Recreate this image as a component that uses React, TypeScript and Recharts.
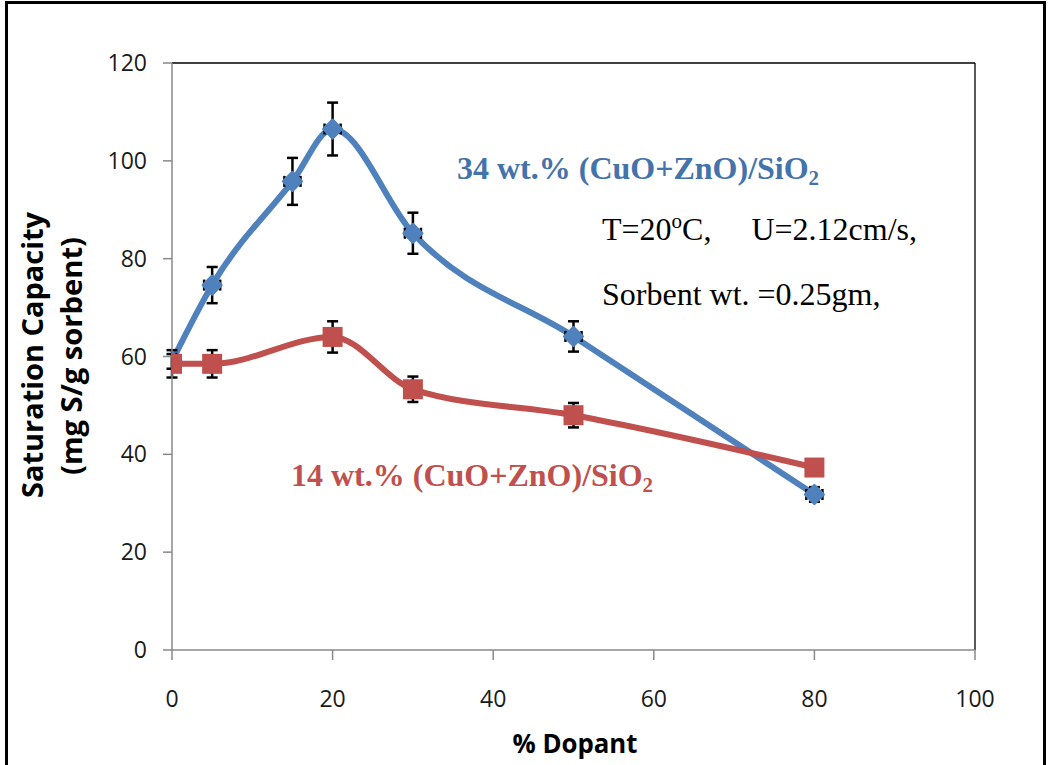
import React from 'react';
import { ComposedChart, Line, Scatter, XAxis, YAxis, ErrorBar, ReferenceLine } from 'recharts';

// % Dopant (x) values
const dopantBlue = [0, 5, 15, 20, 30, 50, 80];
const dopantRed = [0, 5, 20, 30, 50, 80];
// Saturation capacity (mg S/g sorbent)
const capacityBlue = [59, 74.6, 95.8, 106.5, 85.2, 64.1, 31.8];
const capacityRed = [58.5, 58.5, 64, 53.3, 48, 37.3];
// error bar half-lengths
const errorBlueY = [1.5, 3.7, 4.8, 5.4, 4.2, 3.1, 1.5];
const errorBlueX = [0, 1, 1, 1, 1, 1, 1];
const errorRedY = [2.8, 2.8, 3.2, 2.6, 2.5, 1];
// axis ticks
const xTicks = [0, 20, 40, 60, 80, 100];
const yTicks = [0, 20, 40, 60, 80, 100, 120];

const blueData = dopantBlue.map((x, i) => ({ x, y: capacityBlue[i], ey: errorBlueY[i], ex: errorBlueX[i] }));
const redData = dopantRed.map((x, i) => ({ x, y: capacityRed[i], ey: errorRedY[i] }));

const BLUE = '#4F81BD';
const RED = '#C0504D';
const BLUE_TEXT = '#4473AB';
const AXIS = '#898989';
const TICK_FONT = { fontFamily: "'Open Sans', sans-serif", fontSize: 23, fill: '#1a1a1a' };

const Diamond = (props: any) => {
  const { cx, cy } = props;
  if (cx == null || cy == null) return null;
  const r = 9;
  return (
    <path
      d={`M${cx},${cy - r} L${cx + r},${cy} L${cx},${cy + r} L${cx - r},${cy} Z`}
      fill={BLUE}
      stroke={BLUE}
      strokeWidth={3}
      strokeLinejoin="round"
    />
  );
};

const Square = (props: any) => {
  const { cx, cy } = props;
  if (cx == null || cy == null) return null;
  return <rect x={cx - 10} y={cy - 10} width={20} height={20} fill={RED} />;
};

export default function App() {
  return (
    <div style={{ position: 'absolute', left: 0, top: 0, width: 1050, height: 765, overflow: 'hidden', background: '#fff' }}>
      <div
        style={{
          position: 'absolute',
          left: 5,
          top: 1,
          width: 1035,
          height: 820,
          border: '3px solid #000',
        }}
      />
      <div style={{ position: 'absolute', left: 0, top: 0 }}>
        <ComposedChart width={1050} height={765} margin={{ top: 63, right: 75, bottom: 55, left: 0 }}>
          <XAxis
            dataKey="x"
            type="number"
            domain={[0, 100]}
            allowDataOverflow={true}
            ticks={xTicks}
            height={60}
            tickSize={10}
            tickMargin={31}
            axisLine={{ stroke: AXIS, strokeWidth: 1.5 }}
            tickLine={{ stroke: AXIS, strokeWidth: 1.5 }}
            tick={TICK_FONT}
          />
          <YAxis
            type="number"
            domain={[0, 120]}
            allowDataOverflow={true}
            ticks={yTicks}
            width={172}
            tickSize={9}
            tickMargin={16}
            axisLine={{ stroke: AXIS, strokeWidth: 1.5 }}
            tickLine={{ stroke: AXIS, strokeWidth: 1.5 }}
            tick={TICK_FONT}
          />
          <ReferenceLine y={120} stroke="#000" strokeWidth={1.3} />
          <ReferenceLine x={100} stroke="#000" strokeWidth={1.3} />
          <Line
            data={blueData}
            dataKey="y"
            type="monotone"
            stroke={BLUE}
            strokeWidth={6}
            dot={false}
            activeDot={false}
            isAnimationActive={false}
          />
          <Scatter data={blueData} dataKey="y" shape={Diamond} isAnimationActive={false}>
            <ErrorBar dataKey="ey" direction="y" width={5.5} stroke="#000" strokeWidth={2.5} />
            <ErrorBar dataKey="ex" direction="x" width={5.5} stroke="#000" strokeWidth={2.5} />
          </Scatter>
          <Line
            data={redData}
            dataKey="y"
            type="monotone"
            stroke={RED}
            strokeWidth={6}
            dot={false}
            activeDot={false}
            isAnimationActive={false}
          />
          <Scatter data={redData} dataKey="y" shape={Square} isAnimationActive={false}>
            <ErrorBar dataKey="ey" direction="y" width={5.5} stroke="#000" strokeWidth={2.5} />
          </Scatter>
        </ComposedChart>
      </div>
      <svg
        width={1050}
        height={765}
        style={{ position: 'absolute', left: 0, top: 0, pointerEvents: 'none' }}
      >
        <text x={457} y={179} fontFamily="'Liberation Serif', serif" fontWeight="bold" fontSize={32} fill={BLUE_TEXT}>
          34 wt.% (CuO+ZnO)/SiO<tspan fontSize={21} dy={6}>2</tspan>
        </text>
        <text x={602} y={240} fontFamily="'Liberation Serif', serif" fontSize={32} fill="#000" style={{ whiteSpace: 'pre' }}>
          T=20<tspan fontSize={21} dy={-12}>o</tspan>
          <tspan dy={12}>{'C,     U=2.12cm/s,'}</tspan>
        </text>
        <text x={602} y={305} fontFamily="'Liberation Serif', serif" fontSize={32} fill="#000">
          Sorbent wt. =0.25gm,
        </text>
        <text x={291} y={486} fontFamily="'Liberation Serif', serif" fontWeight="bold" fontSize={32} fill={RED}>
          14 wt.% (CuO+ZnO)/SiO<tspan fontSize={21} dy={6}>2</tspan>
        </text>
        <text
          x={575}
          y={753}
          textAnchor="middle"
          fontFamily="'Open Sans', sans-serif"
          fontWeight="bold"
          fontSize={27}
          fill="#000"
          textLength={125}
          lengthAdjust="spacingAndGlyphs"
        >
          % Dopant
        </text>
        <text
          transform="translate(43,355) rotate(-90)"
          textAnchor="middle"
          fontFamily="'Open Sans', sans-serif"
          fontWeight="bold"
          fontSize={28}
          fill="#000"
          textLength={286}
          lengthAdjust="spacingAndGlyphs"
        >
          Saturation Capacity
        </text>
        <text
          transform="translate(82,356) rotate(-90)"
          textAnchor="middle"
          fontFamily="'Open Sans', sans-serif"
          fontWeight="bold"
          fontSize={28}
          fill="#000"
          textLength={238}
          lengthAdjust="spacingAndGlyphs"
        >
          (mg S/g sorbent)
        </text>
      </svg>
    </div>
  );
}
